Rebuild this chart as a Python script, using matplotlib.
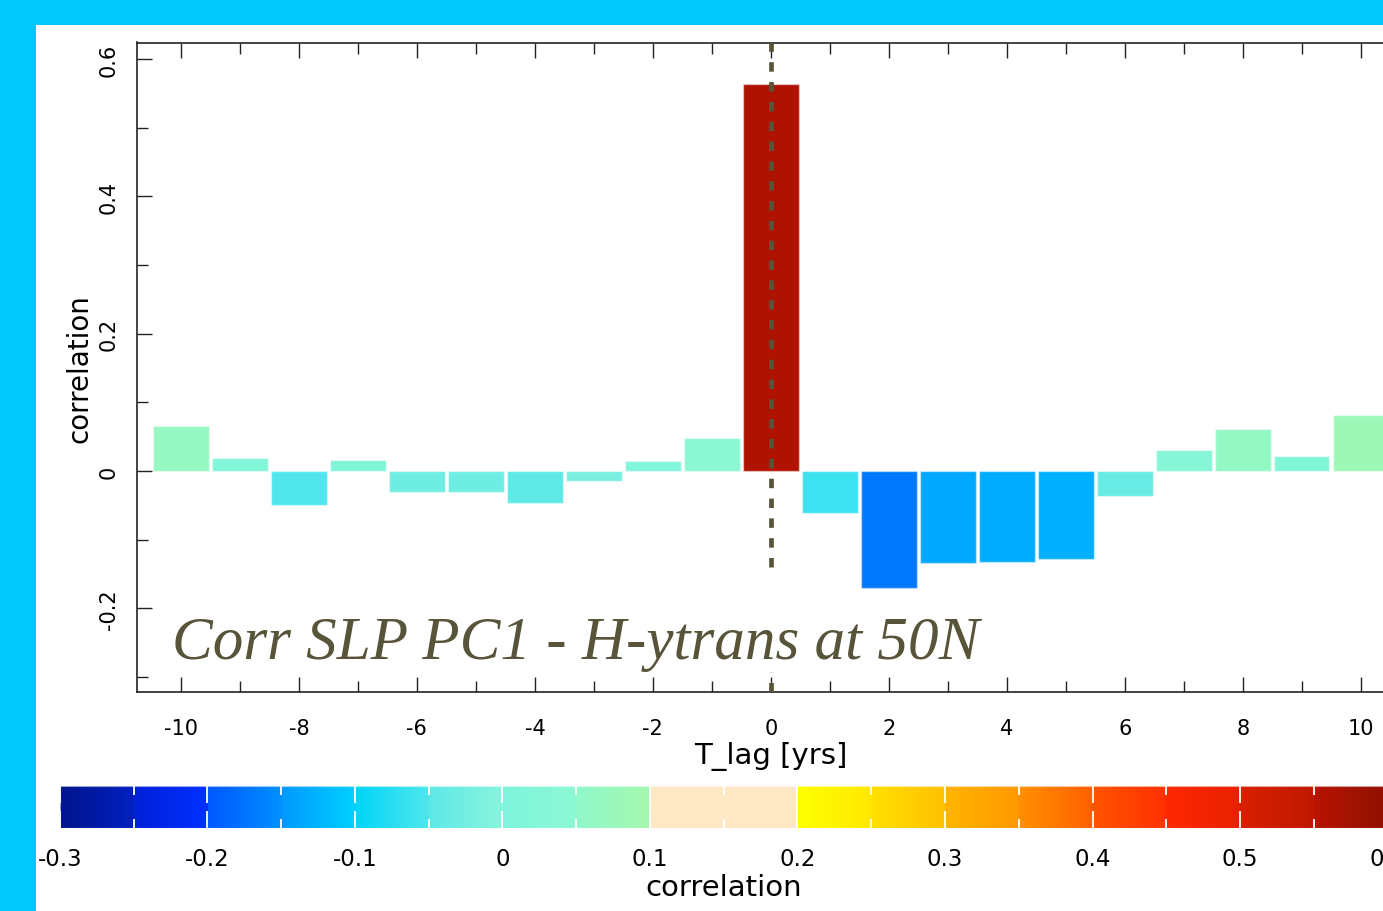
import matplotlib
matplotlib.use("Agg")
import matplotlib.pyplot as plt
import numpy as np
from matplotlib.colors import LinearSegmentedColormap, Normalize
from matplotlib.cm import ScalarMappable
from matplotlib.patches import Rectangle

plt.rcParams['axes.unicode_minus'] = False

# lagged correlation, SLP PC1 vs H-ytrans at 50N
lags = np.arange(-10, 11)
corr = [0.066, 0.019, -0.050, 0.016, -0.030, -0.030, -0.047, -0.015, 0.015, 0.048,
        0.563, -0.062, -0.170, -0.134, -0.132, -0.128, -0.036, 0.031, 0.061, 0.022, 0.082]

# colour scale: block boundaries with start / end colour of each block
cb_bounds = [-0.3, -0.25, -0.2, -0.15, -0.1, -0.05, 0.0, 0.05, 0.1, 0.2,
             0.25, 0.3, 0.35, 0.4, 0.45, 0.5, 0.55, 0.6]
seg_start = ['#00148c', '#0020d8', '#0058ff', '#0098ff', '#00d4f8', '#5ce8e8', '#7ef4dc',
             '#90f8cc', '#ffe8c4', '#ffff00', '#ffe000', '#ffb400', '#ff9000', '#ff5400',
             '#ff2800', '#d82000', '#b81400']
seg_end = ['#0020c0', '#0030ff', '#0090ff', '#00d0ff', '#50e6ec', '#88f4dc', '#8cf8d4',
           '#a4f8ac', '#ffe8c4', '#ffe800', '#ffc000', '#ff9800', '#ff6000', '#ff3000',
           '#e82000', '#c01800', '#901000']
cb_ticks = np.arange(-0.3, 0.61, 0.1)
cb_minor = np.arange(-0.25, 0.6, 0.1)

title = "Corr SLP PC1 - H-ytrans at 50N"
gap_lo, gap_hi = -0.293, -0.14   # where the overlay text hides the dashed line

vmin, vmax = cb_bounds[0], cb_bounds[-1]
stops = []
for i in range(len(seg_start)):
    stops.append(((cb_bounds[i] - vmin) / (vmax - vmin), seg_start[i]))
    stops.append(((cb_bounds[i + 1] - vmin) / (vmax - vmin), seg_end[i]))
cmap = LinearSegmentedColormap.from_list('corr', stops, N=1024)
norm = Normalize(vmin, vmax)

W, H = 1383, 912
fig = plt.figure(figsize=(W / 100, H / 100), dpi=100, facecolor='#00c8fa')
fig.add_artist(Rectangle((36 / W, 0), 1, 1 - 26 / H, transform=fig.transFigure,
                         facecolor='white', edgecolor='none', zorder=0))

ax = fig.add_axes([136.7 / W, 1 - 693 / H, (1405 - 136.7) / W, (693 - 43.5) / H])
ax.bar(lags, corr, width=0.94, color=cmap(norm(np.array(corr))),
       edgecolor=(1, 1, 1, 0.45), linewidth=1, zorder=2)

ylim = (-0.322, 0.624)
ax.vlines(0, gap_hi, ylim[1], colors='#58543a', linestyles=(0, (2.0, 2.2)), lw=3.4, zorder=4)
ax.vlines(0, ylim[0], gap_lo, colors='#58543a', linestyles=(0, (2.0, 2.2)), lw=3.4, zorder=4)

ax.set_xlim(-10.75, 10.75)
ax.set_ylim(*ylim)
ax.set_xticks(np.arange(-10, 11, 2))
ax.set_xticks(np.arange(-9, 10, 2), minor=True)
ax.set_yticks([-0.2, 0, 0.2, 0.4, 0.6])
ax.set_yticks([-0.3, -0.1, 0.1, 0.3, 0.5], minor=True)
ax.set_yticklabels(['-0.2', '0', '0.2', '0.4', '0.6'], rotation=90, va='center')
ax.tick_params(which='both', direction='in', top=True, right=False, color='#222222',
               width=1, labelsize=15)
ax.tick_params(which='major', length=11)
ax.tick_params(which='minor', length=8)
ax.tick_params(axis='x', pad=19)
ax.tick_params(axis='y', pad=13)
for s in ax.spines.values():
    s.set_linewidth(1.2)
    s.set_color('#222222')
ax.set_xlabel('T_lag [yrs]', fontsize=21, labelpad=2)
ax.set_ylabel('correlation', fontsize=20, labelpad=4)

ax.text(-10.15, -0.273, title, fontsize=44, style='italic', family='Liberation Serif',
        color='#58543a', va='baseline', ha='left', zorder=5)

cax = fig.add_axes([60 / W, 1 - 829 / H, (1387.5 - 60) / W, (829 - 787) / H])
cb = fig.colorbar(ScalarMappable(norm=norm, cmap=cmap), cax=cax, orientation='horizontal')
cb.outline.set_edgecolor((1, 1, 1, 0.6))
cb.set_ticks(cb_ticks)
cb.set_ticklabels(['%g' % round(t, 1) for t in cb_ticks])
cax.set_xticks(cb_minor, minor=True)
cax.tick_params(which='both', direction='in', top=True, bottom=True, color='white',
                width=1.3, labelsize=16.5, pad=14)
cax.tick_params(which='major', length=12)
cax.tick_params(which='minor', length=6.5)
for b in (0.1, 0.2):
    cax.axvline(b, color='white', lw=1.2)
cb.set_label('correlation', fontsize=21, labelpad=2)

fig.savefig('out.png', dpi=100, facecolor=fig.get_facecolor())
